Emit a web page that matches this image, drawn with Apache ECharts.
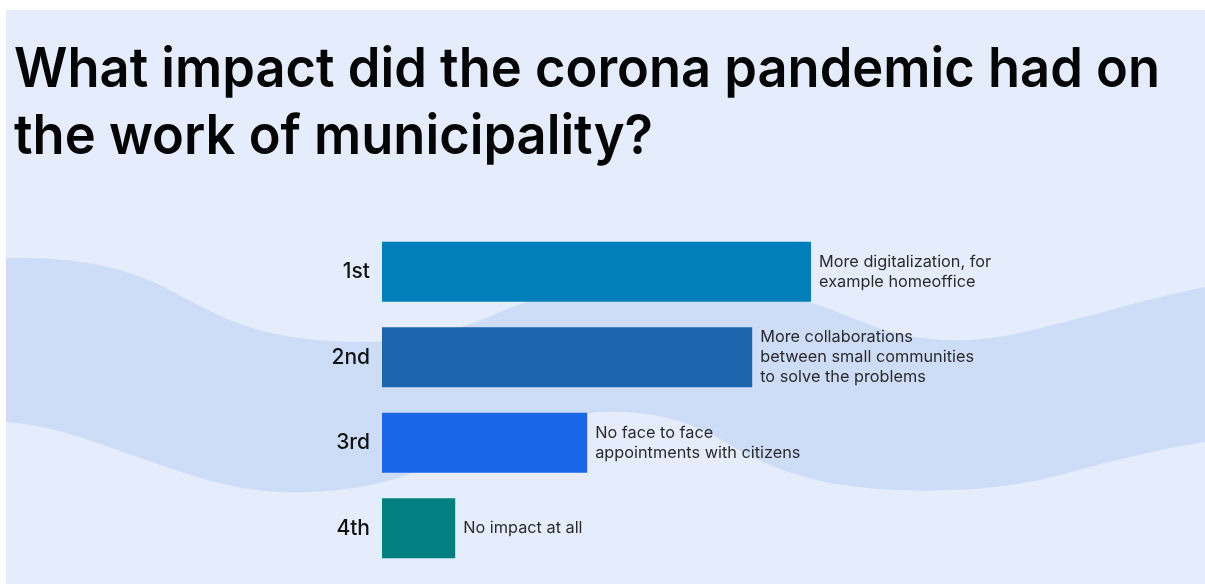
<!DOCTYPE html>
<html>
<head>
<meta charset="utf-8">
<script src="https://cdn.jsdelivr.net/npm/echarts@6/dist/echarts.min.js"></script>
<style>
html,body{margin:0;padding:0;background:#ffffff;}
#chart{width:1205px;height:585px;}
</style>
</head>
<body>
<div id="chart"></div>
<script>
const titleLines = ['What impact did the corona pandemic had on', 'the work of municipality?'];
const categories = ['1st', '2nd', '3rd', '4th'];
const values = [71.5, 61.7, 34.2, 12.2];
const barLabels = [
  'More digitalization, for\nexample homeoffice',
  'More collaborations\nbetween small communities\nto solve the problems',
  'No face to face\nappointments with citizens',
  'No impact at all'
];
const barColors = ['#007fbb', '#1c65ad', '#1a66e9', '#018081'];

// decorative background wave (cubic segments: start point, then [c1, c2, end] triples)
function sampleBeziers(start, segs) {
  const pts = [start];
  let p0 = start;
  segs.forEach(s => {
    const [c1, c2, p3] = s;
    for (let i = 1; i <= 16; i++) {
      const t = i / 16, u = 1 - t;
      pts.push([
        u*u*u*p0[0] + 3*u*u*t*c1[0] + 3*u*t*t*c2[0] + t*t*t*p3[0],
        u*u*u*p0[1] + 3*u*u*t*c1[1] + 3*u*t*t*c2[1] + t*t*t*p3[1]
      ]);
    }
    p0 = p3;
  });
  return pts;
}
const waveTop = sampleBeziers([6, 258], [
  [[60,257],[110,262],[160,285]], [[210,310],[240,335],[330,341]],
  [[400,345],[450,335],[500,312]], [[560,285],[640,280],[720,286]],
  [[790,292],[820,305],[870,325]], [[910,340],[960,345],[1010,335]],
  [[1080,320],[1140,300],[1205,287]]
]);
const waveBottom = sampleBeziers([1205, 442], [
  [[1140,452],[1080,470],[1040,480]], [[980,492],[900,495],[830,483]],
  [[790,475],[760,462],[730,445]], [[690,420],[650,410],[600,412]],
  [[530,418],[470,445],[420,470]], [[390,483],[340,494],[280,492]],
  [[230,490],[190,475],[140,458]], [[90,440],[50,425],[6,422]]
]);

const titleFont = '600 55px Inter';
const ctx = document.createElement('canvas').getContext('2d');
ctx.font = titleFont;
const w1 = ctx.measureText(titleLines[0]).width;
const sx = 1146 / w1;

const chart = echarts.init(document.getElementById('chart'));
chart.setOption({
  backgroundColor: '#ffffff',
  animation: false,
  graphic: [
    { type: 'rect', z: -10, silent: true, shape: { x: 6, y: 10, width: 1199, height: 574 }, style: { fill: '#e5edfc' } },
    { type: 'polygon', z: -9, silent: true, shape: { points: waveTop.concat(waveBottom) }, style: { fill: '#cddcf7' } },
    { type: 'text', x: 14, y: 70, scaleX: sx, style: { text: titleLines[0], font: titleFont, fill: '#050505', align: 'left', verticalAlign: 'middle' } },
    { type: 'text', x: 14, y: 137, scaleX: sx, style: { text: titleLines[1], font: titleFont, fill: '#050505', align: 'left', verticalAlign: 'middle' } }
  ],
  grid: { left: 382, top: 229, width: 600, height: 342 },
  xAxis: { type: 'value', min: 0, max: 100, show: false },
  yAxis: {
    type: 'category', data: categories, inverse: true,
    axisLine: { show: false }, axisTick: { show: false }, splitLine: { show: false },
    axisLabel: { fontFamily: 'Inter', fontSize: 21, fontWeight: 500, color: '#111111', margin: 12 }
  },
  series: [{
    type: 'bar',
    barCategoryGap: '30%',
    data: values.map((v, i) => ({ value: v, itemStyle: { color: barColors[i] }, label: { formatter: barLabels[i] } })),
    label: {
      show: true, position: 'right', distance: 8,
      fontFamily: 'Inter', fontSize: 16.3, lineHeight: 20, color: '#2a2a2a'
    }
  }]
});
</script>
</body>
</html>
